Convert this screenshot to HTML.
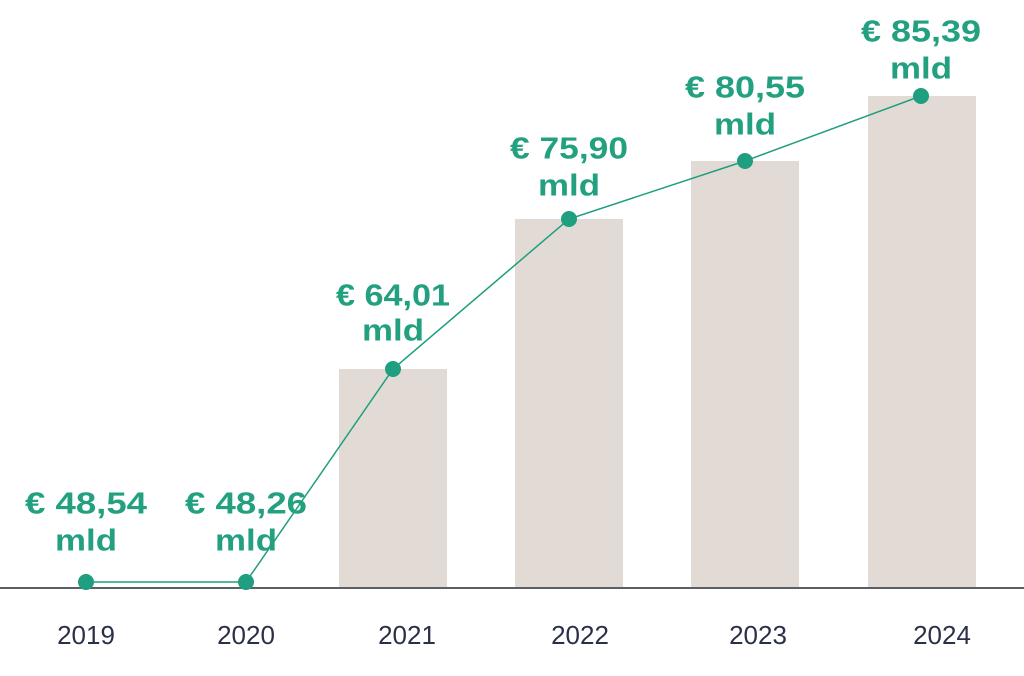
<!DOCTYPE html>
<html><head><style>body{margin:0;background:#fff}</style></head><body>
<svg width="1024" height="671" xmlns="http://www.w3.org/2000/svg" font-family="Liberation Sans, sans-serif">
<rect width="1024" height="671" fill="#fff"/>
<g fill="#e2dbd5">
<rect x="339" y="369" width="108" height="219"/>
<rect x="515" y="219" width="108" height="369"/>
<rect x="691" y="161" width="108" height="427"/>
<rect x="868" y="96" width="108" height="492"/>
</g>
<line x1="0" y1="588" x2="1024" y2="588" stroke="#5a5f66" stroke-width="2"/>
<polyline points="86,582 246,582 393,369 569,219 745,161 921,96" fill="none" stroke="#1f9e80" stroke-width="1.5"/>
<g fill="#1f9e80">
<circle cx="86" cy="582" r="8"/><circle cx="246" cy="582" r="8"/><circle cx="393" cy="369" r="8"/>
<circle cx="569" cy="219" r="8"/><circle cx="745" cy="161" r="8"/><circle cx="921" cy="96" r="8"/>
</g>
<g fill="#22a080" font-weight="bold" font-size="31" text-anchor="middle" dominant-baseline="central">
<text x="86" y="503" textLength="122" lengthAdjust="spacingAndGlyphs">€ 48,54</text><text x="86" y="540" textLength="62" lengthAdjust="spacingAndGlyphs">mld</text>
<text x="246" y="503" textLength="122" lengthAdjust="spacingAndGlyphs">€ 48,26</text><text x="246" y="540" textLength="62" lengthAdjust="spacingAndGlyphs">mld</text>
<text x="393" y="295" textLength="114" lengthAdjust="spacingAndGlyphs">€ 64,01</text><text x="393" y="330" textLength="62" lengthAdjust="spacingAndGlyphs">mld</text>
<text x="569" y="148" textLength="118" lengthAdjust="spacingAndGlyphs">€ 75,90</text><text x="569" y="185" textLength="62" lengthAdjust="spacingAndGlyphs">mld</text>
<text x="745" y="87" textLength="120" lengthAdjust="spacingAndGlyphs">€ 80,55</text><text x="745" y="124" textLength="62" lengthAdjust="spacingAndGlyphs">mld</text>
<text x="921" y="31" textLength="120" lengthAdjust="spacingAndGlyphs">€ 85,39</text><text x="921" y="68" textLength="62" lengthAdjust="spacingAndGlyphs">mld</text>
</g>
<g fill="#2a3048" font-size="26" text-anchor="middle" dominant-baseline="central">
<text x="86" y="635">2019</text><text x="246" y="635">2020</text><text x="407" y="635">2021</text>
<text x="580" y="635">2022</text><text x="758" y="635">2023</text><text x="942" y="635">2024</text>
</g>
</svg>
</body></html>
